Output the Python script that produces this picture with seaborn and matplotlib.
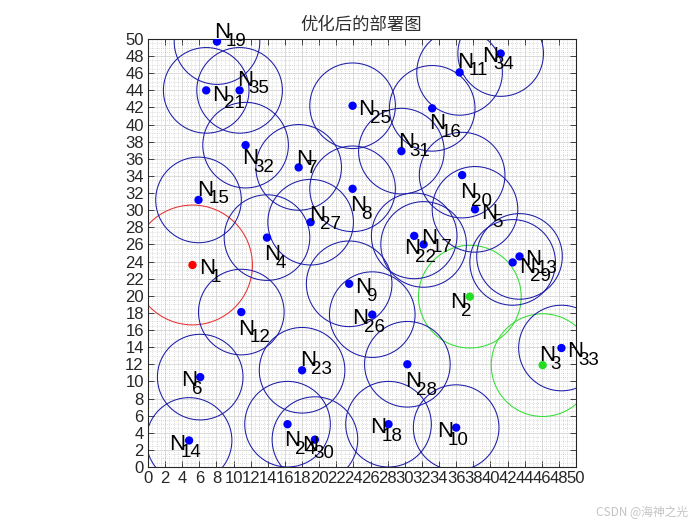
import matplotlib
matplotlib.use("Agg")
import matplotlib.pyplot as plt
from matplotlib.patches import Circle
from matplotlib.ticker import MultipleLocator
import numpy as np
import pandas as pd
import seaborn as sns

# Node coordinates after optimisation (N1 ... N35)
node_x = [5.2, 37.6, 46.1, 13.9, 38.2, 6.1, 17.6, 23.9, 23.5, 36.0,
          36.4, 10.9, 43.4, 4.8, 5.9, 33.2, 32.2, 28.1, 8.06, 36.7,
          6.8, 31.1, 18.0, 16.3, 23.9, 26.2, 19.0, 30.3, 42.6, 19.5,
          29.6, 11.4, 48.3, 41.2, 10.7]
node_y = [23.6, 19.9, 11.9, 26.8, 30.1, 10.5, 35.0, 32.5, 21.4, 4.6,
          46.1, 18.1, 24.6, 3.1, 31.2, 41.9, 26.0, 5.0, 49.7, 34.1,
          44.0, 27.0, 11.3, 5.0, 42.2, 17.8, 28.6, 12.0, 23.9, 3.2,
          36.9, 37.6, 13.9, 48.3, 44.0]
# Node kind: sink (red), gateway (green), sensor (blue)
node_kind = ["sink", "gateway", "gateway"] + ["sensor"] * 32
# Coverage radius for each kind
kind_radius = {"sink": 7.0, "gateway": 6.0, "sensor": 5.0}

# Where each node name is written
label_x = [5.96, 35.28, 45.71, 13.55, 38.87, 3.82, 17.25, 23.6, 24.18, 33.72,
           36.1, 10.55, 44.04, 2.49, 5.72, 32.86, 31.86, 25.93, 7.71, 36.45,
           7.51, 29.9, 17.76, 15.89, 24.57, 23.9, 18.8, 30.02, 43.34, 17.95,
           29.25, 10.95, 48.98, 38.98, 10.43]
label_y = [23.5, 19.5, 13.28, 25.15, 29.87, 10.36, 36.2, 30.8, 21.26, 4.47,
           47.6, 16.4, 24.57, 2.96, 32.65, 40.4, 26.95, 4.9, 51.05, 32.36,
           43.75, 25.8, 12.7, 3.35, 42.06, 17.6, 29.7, 10.28, 23.6, 2.86,
           38.2, 36.3, 13.82, 48.3, 45.5]

ticks = list(range(0, 51, 2))
title_text = "优化后的部署图"
credit_text = "CSDN @海神之光"

nodes = pd.DataFrame({
    "id": [str(i + 1) for i in range(len(node_x))],
    "x": node_x, "y": node_y, "kind": node_kind,
    "lx": label_x, "ly": label_y,
})
nodes["r"] = nodes["kind"].map(kind_radius)

dot_colors = {"sink": "#ff0000", "gateway": "#22dd22", "sensor": "#0000ff"}
ring_colors = {"sink": "#e83030", "gateway": "#33dd33", "sensor": "#1c1ca8"}

sns.set_theme(style="white")
plt.rcParams["font.family"] = ["Liberation Sans", "DejaVu Sans"]

fig = plt.figure(figsize=(7, 5.25), dpi=100)
ax = fig.add_axes([148 / 700, 1 - 467 / 525, 428 / 700, 428 / 525])

# coverage rings
for _, row in nodes.iterrows():
    ax.add_patch(Circle((row["x"], row["y"]), row["r"], fill=False,
                        edgecolor=ring_colors[row["kind"]], linewidth=0.75,
                        zorder=2))

sns.scatterplot(data=nodes, x="x", y="y", hue="kind", palette=dot_colors,
                s=36, linewidth=0, legend=False, ax=ax, zorder=3)

# node names: large N with a subscript index
for _, row in nodes.iterrows():
    ax.annotate("N", xy=(row["lx"], row["ly"]), xytext=(0, -5.8),
                textcoords="offset points", fontsize=16, color="black",
                ha="left", va="baseline", zorder=4, annotation_clip=False)
    ax.annotate(row["id"], xy=(row["lx"], row["ly"]), xytext=(8.2, -11.4),
                textcoords="offset points", fontsize=13.5, color="black",
                ha="left", va="baseline", zorder=4, annotation_clip=False)

ax.set_xlim(0, 50)
ax.set_ylim(0, 50)
ax.set_xticks(ticks)
ax.set_yticks(ticks)
ax.xaxis.set_minor_locator(MultipleLocator(0.5))
ax.yaxis.set_minor_locator(MultipleLocator(0.5))
ax.set_xlabel("")
ax.set_ylabel("")

ax.grid(which="major", color="#d4d4d4", linewidth=0.6, linestyle="-")
ax.grid(which="minor", color="#bdbdbd", linewidth=0.5, linestyle=(0, (1, 2)))
ax.set_axisbelow(True)

ax.tick_params(which="major", direction="in", length=4, width=0.6,
               colors="#262626", labelsize=12, top=True, right=True,
               bottom=True, left=True, pad=3)
ax.tick_params(which="minor", length=0)
for s in ax.spines.values():
    s.set_visible(True)
    s.set_color("#262626")
    s.set_linewidth(0.8)

fig.text(361 / 700, 1 - 25 / 525, title_text, ha="center", va="center",
         fontsize=12.5, color="#303030",
         family=["Noto Sans CJK SC", "DejaVu Sans"])
fig.text(688 / 700, 1 - 512.5 / 525, credit_text, ha="right", va="center",
         fontsize=8.5, color="#c4c4c4",
         family=["Noto Sans CJK SC", "DejaVu Sans"])

fig.savefig("out.png", dpi=100)
